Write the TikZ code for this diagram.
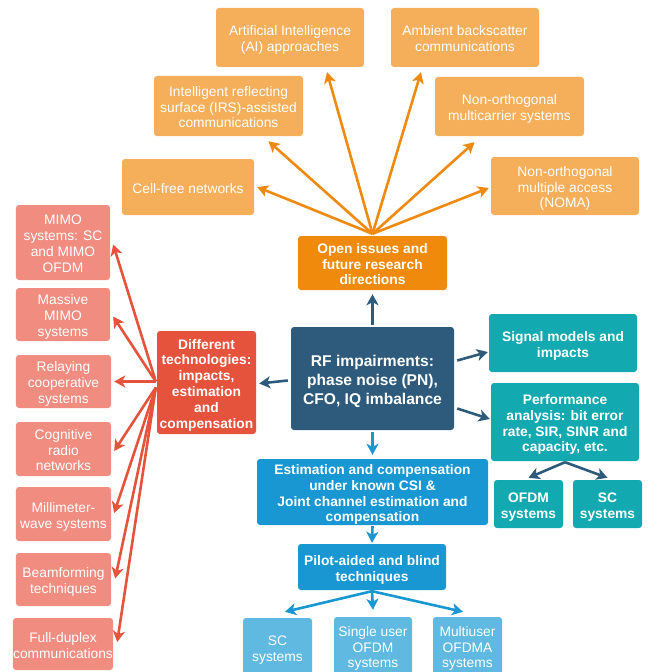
\documentclass[tikz,border=0pt]{standalone}
\usepackage{fontspec}
\setmainfont{Liberation Sans}
\usetikzlibrary{arrows.meta}
\definecolor{lorange}{RGB}{245,175,90}
\definecolor{dorange}{RGB}{239,138,12}
\definecolor{aorange}{RGB}{239,138,16}
\definecolor{rfblue}{RGB}{46,91,123}
\definecolor{dred}{RGB}{230,83,60}
\definecolor{pink}{RGB}{240,140,128}
\definecolor{teal}{RGB}{19,169,177}
\definecolor{mblue}{RGB}{24,151,211}
\definecolor{lblue}{RGB}{95,185,225}
\newcommand\boxtxt[1]{\raisebox{-3bp}[\height][\depth]{\begin{tabular}{@{}c@{}}#1\end{tabular}}}
\tikzset{
  box/.style={rounded corners=3bp, inner sep=0pt, text=white,
    font=\fontsize{13.8bp}{15.8bp}\selectfont},
  bbox/.style={box, font=\fontsize{13.8bp}{15.8bp}\selectfont\bfseries},
  sz/.style 2 args={minimum width=#1bp, minimum height=#2bp},
  arr/.style={line width=2.6bp, -{Stealth[length=11bp,width=12bp,inset=3bp]}},
}
\begin{document}
\begin{tikzpicture}[x=1bp,y=-1bp]
\useasboundingbox (0,0) rectangle (648,672);
% top orange boxes
\node[box, fill=lorange, sz={148}{59}] (ai) at (290,37.5) {\boxtxt{Artificial Intelligence\\(AI) approaches}};
\node[box, fill=lorange, sz={148}{59}] (amb) at (465,37.5) {\boxtxt{Ambient backscatter\\communications}};
\node[box, fill=lorange, sz={149}{60}] (irs) at (228.5,106) {\boxtxt{Intelligent reflecting\\surface (IRS)-assisted\\communications}};
\node[box, fill=lorange, sz={149}{59}] (nomac) at (509.5,106.5) {\boxtxt{Non-orthogonal\\multicarrier systems}};
\node[box, fill=lorange, sz={132}{56}] (cell) at (188,187) {\boxtxt{Cell-free networks}};
\node[box, fill=lorange, sz={148}{58}] (noma) at (565,186) {\boxtxt{Non-orthogonal\\multiple access\\(NOMA)}};
\node[bbox, fill=dorange, sz={149}{54}] (oi) at (372.5,263) {\boxtxt{Open issues and\\future research\\directions}};
% left boxes
\node[box, fill=pink, sz={94}{75}] (mimo) at (63,242.5) {\boxtxt{MIMO\\systems: SC\\and MIMO\\OFDM}};
\node[box, fill=pink, sz={94}{53}] (massive) at (63,314.5) {\boxtxt{Massive\\MIMO\\systems}};
\node[box, fill=pink, sz={95}{53}] (relay) at (63.5,381.5) {\boxtxt{Relaying\\cooperative\\systems}};
\node[box, fill=pink, sz={95}{54}] (cog) at (63.5,449) {\boxtxt{Cognitive\\radio\\networks}};
\node[box, fill=pink, sz={95}{54}] (mmw) at (63.5,514) {\boxtxt{Millimeter-\\wave systems}};
\node[box, fill=pink, sz={95}{53}] (beam) at (63.5,579.5) {\boxtxt{Beamforming\\techniques}};
\node[box, fill=pink, sz={100}{52}] (full) at (63,644) {\boxtxt{Full-duplex\\communications}};
\node[bbox, fill=dred, sz={99}{103}] (diff) at (206.5,382.5) {\boxtxt{Different\\technologies:\\impacts,\\estimation\\and\\compensation}};
% center
\node[box, fill=rfblue, sz={163}{103}, font=\fontsize{15.6bp}{19bp}\selectfont\bfseries] (rf) at (372.5,378.5) {\boxtxt{RF impairments:\\phase noise (PN),\\CFO, IQ imbalance}};
% right teal
\node[bbox, fill=teal, sz={148}{58}] (sig) at (563,343) {\boxtxt{Signal models and\\impacts}};
\node[bbox, fill=teal, sz={148}{78}] (perf) at (565,422) {\boxtxt{Performance\\analysis: bit error\\rate, SIR, SINR and\\capacity, etc.}};
\node[bbox, fill=teal, sz={69}{48}] (ofdm) at (528.5,504) {\boxtxt{OFDM\\systems}};
\node[bbox, fill=teal, sz={69}{48}] (sc) at (607.5,504) {\boxtxt{SC\\systems}};
% bottom blue
\node[bbox, fill=mblue, sz={231}{66}] (est) at (372.5,492) {\boxtxt{Estimation and compensation\\under known CSI \&\\Joint channel estimation and\\compensation}};
\node[bbox, fill=mblue, sz={148}{46}] (pilot) at (372,567) {\boxtxt{Pilot-aided and blind\\techniques}};
\node[box, fill=lblue, sz={69}{58}] (scb) at (277.5,647) {\boxtxt{SC\\systems}};
\node[box, fill=lblue, sz={78}{58}] (sub) at (373,646) {\boxtxt{Single user\\OFDM\\systems}};
\node[box, fill=lblue, sz={69}{58}] (mub) at (467.5,646) {\boxtxt{Multiuser\\OFDMA\\systems}};

% orange fan
\coordinate (fan) at ([yshift=2bp]oi.north);
\draw[arr, aorange] (fan) -- ([xshift=3bp]cell.east);
\draw[arr, aorange] (fan) -- ([xshift=40bp,yshift=-5bp]irs.south);
\draw[arr, aorange] (fan) -- ([xshift=37bp,yshift=-5bp]ai.south);
\draw[arr, aorange] (fan) -- ([xshift=-44bp,yshift=-5bp]amb.south);
\draw[arr, aorange] (fan) -- ([xshift=-35bp,yshift=-6bp]nomac.south);
\draw[arr, aorange] (fan) -- ([xshift=-2bp,yshift=-2bp]noma.west);

% red fan
\coordinate (rfan) at ([xshift=-1bp,yshift=1bp]diff.west);
\coordinate (rfan2) at ([xshift=-1bp,yshift=-5bp]diff.west);
\draw[arr, dred] (rfan) -- ([xshift=3bp,yshift=-2bp]mimo.east);
\draw[arr, dred] (rfan) -- ([xshift=3bp,yshift=-2bp]massive.east);
\draw[arr, dred] (rfan) -- ([xshift=3bp]relay.east);
\draw[arr, dred] (rfan2) -- ([xshift=3bp,yshift=-2bp]cog.east);
\draw[arr, dred] (rfan2) -- ([xshift=3bp,yshift=1bp]mmw.east);
\draw[arr, dred] (rfan2) -- ([xshift=4bp,yshift=1bp]beam.east);
\draw[arr, dred] (rfan2) -- ([xshift=4bp,yshift=2bp]full.east);

% RF connectors
\draw[arr, rfblue] ([yshift=2bp]rf.north) -- ([yshift=-4bp]oi.south);
\draw[arr, rfblue] ([xshift=-3bp,yshift=-2bp]rf.west) -- ([xshift=3bp,yshift=-1bp]diff.east);
\draw[arr, rfblue] ([xshift=3bp,yshift=18bp]rf.east) -- ([xshift=-1bp,yshift=-9bp]sig.west);
\draw[arr, rfblue] ([xshift=3bp,yshift=-30bp]rf.east) -- ([xshift=-1bp,yshift=3bp]perf.west);
\draw[arr, rfblue] ([yshift=-1bp]perf.south) -- ([yshift=2bp]ofdm.north);
\draw[arr, rfblue] ([yshift=-1bp]perf.south) -- ([yshift=2bp]sc.north);
\draw[arr, mblue] ([yshift=-2bp]rf.south) -- ([yshift=4bp]est.north);
\draw[arr, mblue] ([yshift=-1bp]est.south) -- ([yshift=1bp]pilot.north);
\draw[arr, mblue] ([yshift=-1bp]pilot.south) -- ([xshift=7.5bp,yshift=6bp]scb.north);
\draw[arr, mblue] ([yshift=-1bp]pilot.south) -- ([yshift=7bp]sub.north);
\draw[arr, mblue] ([yshift=-1bp]pilot.south) -- ([xshift=-4.5bp,yshift=5bp]mub.north);
\end{tikzpicture}
\end{document}
